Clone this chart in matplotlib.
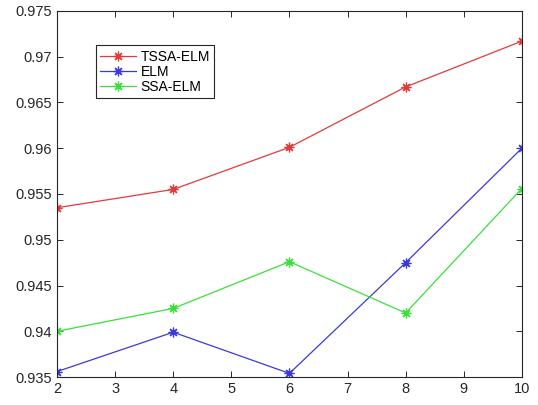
import matplotlib.pyplot as plt
import numpy as np

# Data
x = [2, 4, 6, 8, 10]
tssa_elm = [0.9535, 0.9555, 0.9601, 0.9667, 0.9717]
elm = [0.9356, 0.9399, 0.9354, 0.9475, 0.9600]
ssa_elm = [0.9400, 0.9425, 0.9476, 0.9420, 0.9556]
labels = ['TSSA-ELM', 'ELM', 'SSA-ELM']

plt.rcParams['font.family'] = ['Liberation Sans', 'DejaVu Sans']

fig = plt.figure(figsize=(5.38, 4.05), dpi=100)
ax = fig.add_axes([0.106, 0.069, 0.864, 0.904])

star = (8, 2, 0)
ax.plot(x, tssa_elm, color='#e23a3a', lw=0.9, marker=star, ms=7, mew=0.9, label=labels[0])
ax.plot(x, elm, color='#3a3ad8', lw=0.9, marker=star, ms=7, mew=0.9, label=labels[1])
ax.plot(x, ssa_elm, color='#3ae03a', lw=0.9, marker=star, ms=7, mew=0.9, label=labels[2])

ax.set_xlim(2, 10)
ax.set_ylim(0.935, 0.975)
ax.set_xticks(np.arange(2, 11, 1))
ax.set_yticks([0.935, 0.94, 0.945, 0.95, 0.955, 0.96, 0.965, 0.97, 0.975])
ax.set_yticklabels(['0.935', '0.94', '0.945', '0.95', '0.955', '0.96', '0.965', '0.97', '0.975'])
ax.tick_params(direction='in', top=True, right=True, labelsize=10.5,
               colors='#262626', length=4, width=0.7)
for s in ax.spines.values():
    s.set_color('#262626')
    s.set_linewidth(0.8)

leg = ax.legend(loc='upper left', bbox_to_anchor=(0.084, 0.906), fontsize=10,
                fancybox=False, framealpha=1, edgecolor='#262626',
                handlelength=2.6, borderpad=0.3, labelspacing=0.1, handletextpad=0.3,
                borderaxespad=0)
leg.get_frame().set_linewidth(0.8)

fig.savefig('out.png', dpi=100)
